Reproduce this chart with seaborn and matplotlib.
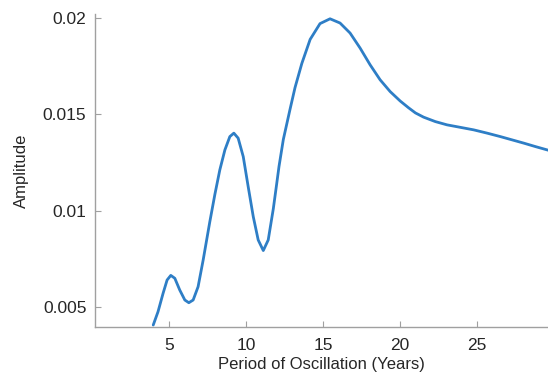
import matplotlib
matplotlib.use("Agg")
import matplotlib.pyplot as plt
import pandas as pd
import seaborn as sns

# Periodo (años) y amplitud
period = [3.99, 4.30, 4.63, 4.89, 5.13, 5.39, 5.71, 6.04, 6.30, 6.58, 6.90,
          7.23, 7.66, 7.99, 8.31, 8.64, 8.96, 9.22, 9.50, 9.83, 10.15, 10.48,
          10.80, 11.13, 11.45, 11.78, 12.00, 12.15, 12.43, 12.86, 13.19,
          13.63, 14.17, 14.81, 15.46, 16.11, 16.76, 17.41, 18.06, 18.71,
          19.36, 20.01, 20.55, 21.00, 21.53, 22.29, 23.05, 23.92, 24.78,
          25.65, 26.51, 27.27, 28.03, 28.79, 29.63]
amplitude = [0.00406, 0.00475, 0.00571, 0.00640, 0.00664, 0.00649, 0.00588,
             0.00536, 0.00522, 0.00536, 0.00605, 0.00744, 0.00942, 0.01085,
             0.01212, 0.01316, 0.01385, 0.01403, 0.01377, 0.01281, 0.01125,
             0.00969, 0.00848, 0.00793, 0.00848, 0.01010, 0.01140, 0.01230,
             0.01370, 0.01525, 0.01640, 0.01765, 0.01890, 0.01972, 0.01997,
             0.01975, 0.01923, 0.01845, 0.01758, 0.01680, 0.01619, 0.01570,
             0.01535, 0.01508, 0.01486, 0.01463, 0.01446, 0.01433, 0.01420,
             0.01403, 0.01385, 0.01368, 0.01351, 0.01333, 0.01314]

x_ticks = [5, 10, 15, 20, 25]
y_ticks = [0.005, 0.01, 0.015, 0.02]
y_tick_labels = ["0.005", "0.01", "0.015", "0.02"]

df = pd.DataFrame({"period": period, "amplitude": amplitude})

sns.set_theme(style="white")
plt.rcParams["font.family"] = ["Liberation Sans", "DejaVu Sans"]

fig = plt.figure(figsize=(5.48, 3.78), dpi=100)
ax = fig.add_axes([0.173, 0.135, 0.827, 0.828])

sns.lineplot(data=df, x="period", y="amplitude", color="#2E7EC6", lw=2.0, ax=ax)
ax.lines[0].set_solid_joinstyle("round")

ax.set_xlim(0.2, 29.6)
ax.set_ylim(0.00396, 0.02022)
ax.set_xticks(x_ticks)
ax.set_yticks(y_ticks)
ax.set_yticklabels(y_tick_labels)

for side in ("top", "right"):
    ax.spines[side].set_visible(False)
for side in ("left", "bottom"):
    ax.spines[side].set_color("#a0a0a0")
    ax.spines[side].set_linewidth(1.0)

ax.tick_params(axis="both", direction="in", length=4, width=0.8, color="#a0a0a0",
               labelsize=12.5, labelcolor="#262626", bottom=True, left=True)
ax.tick_params(axis="x", pad=8)
ax.tick_params(axis="y", pad=6)

ax.set_xlabel("Period of Oscillation (Years)", fontsize=12, color="#262626", labelpad=3)
ax.set_ylabel("Amplitude", fontsize=12, color="#262626", labelpad=10)

fig.savefig("out.png", dpi=100)
